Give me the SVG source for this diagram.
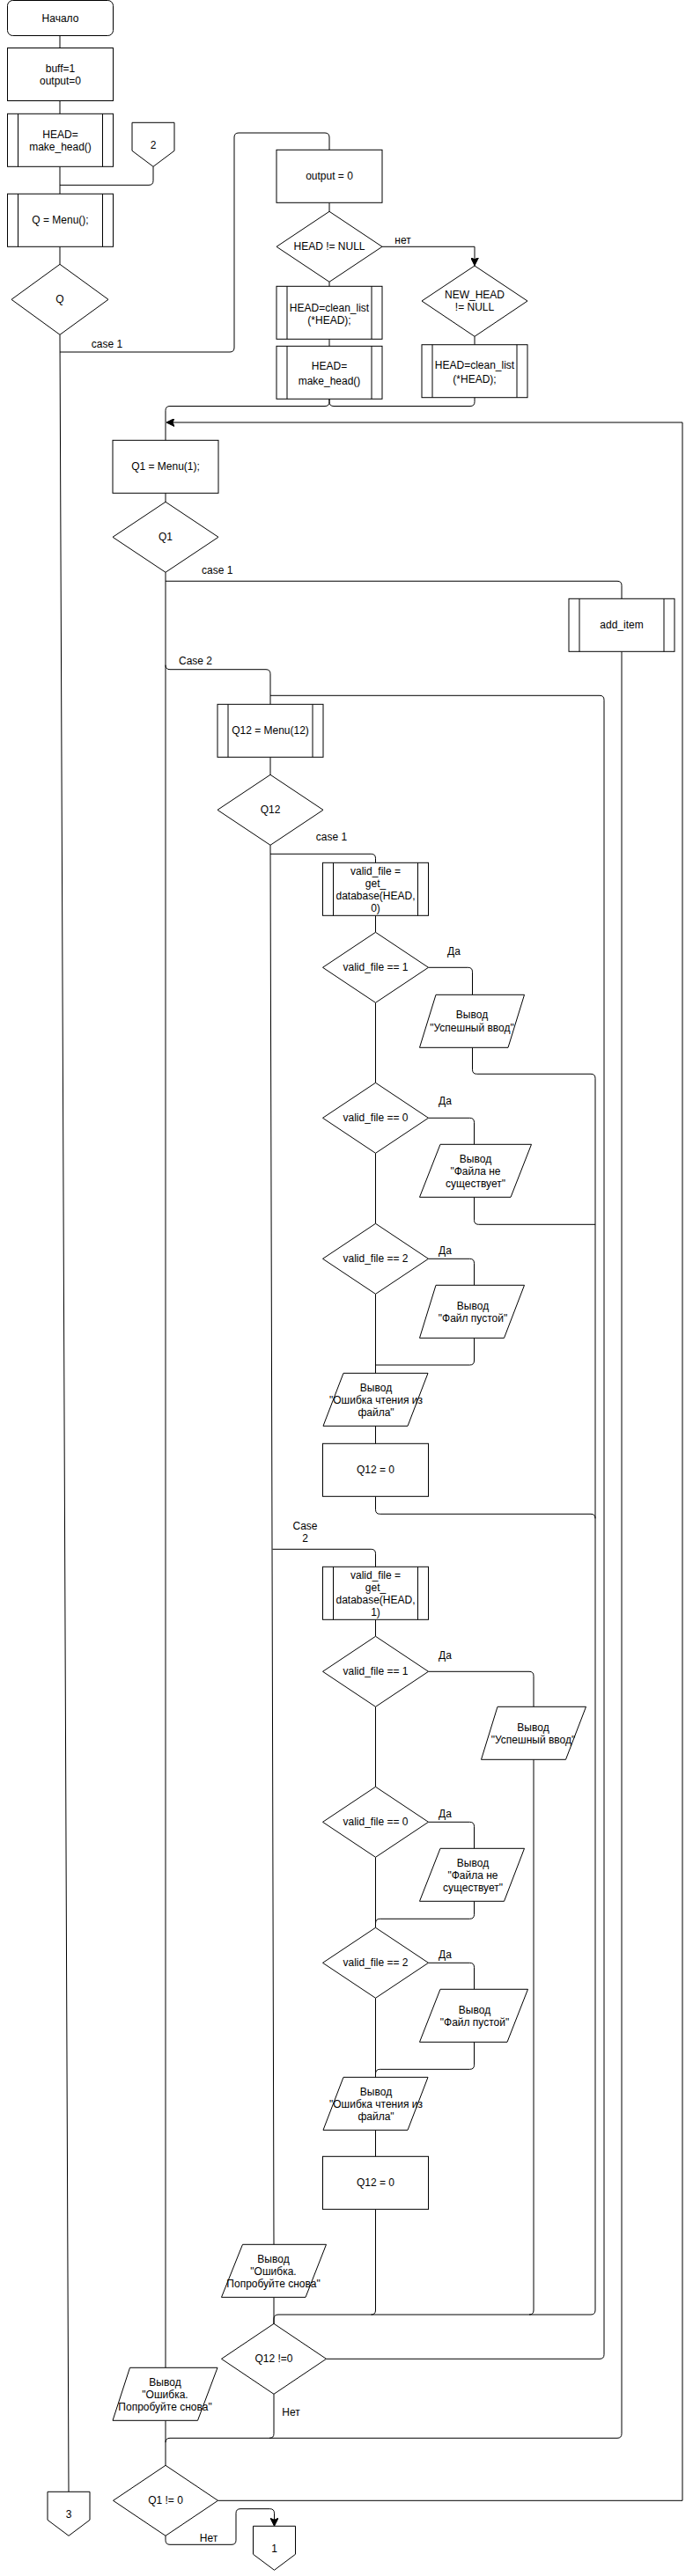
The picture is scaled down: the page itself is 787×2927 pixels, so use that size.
<svg xmlns="http://www.w3.org/2000/svg" width="787" height="2927" viewBox="0 0 787 2927">
<style>
.s{fill:#fff;stroke:#000;stroke-width:1}
.c{fill:none;stroke:#000;stroke-width:1}
.a{marker-end:url(#arr)}
text{font-family:"Liberation Sans",Arial,Helvetica,sans-serif;font-size:12px;fill:#000;text-anchor:middle}
</style>
<defs>
<marker id="arr" markerUnits="userSpaceOnUse" markerWidth="10" markerHeight="9" refX="9" refY="4.5" orient="auto">
<path d="M0,0 L9,4.5 L0,9 L2,4.5 z" fill="#000" stroke="#000" stroke-width="1"/>
</marker>
</defs>
<rect width="787" height="2927" fill="#fff"/>
<g id="connectors">
<path class="c" d="M68,40.5 V54.5"/>
<path class="c" d="M68,114.5 V129.3"/>
<path class="c" d="M68,189.3 V220.3"/>
<path class="c" d="M174,189.3 V205.3 Q174,210.3 169,210.3 H68"/>
<path class="c" d="M68,280.3 V300.3"/>
<path class="c" d="M68,380.3 L78,2831.3"/>
<path class="c" d="M68,400 H261 Q266,400 266,395 V156 Q266,151 271,151 H369 Q374,151 374,156 V170.3"/>
<path class="c" d="M374,230.3 V240.3"/>
<path class="c" d="M374,320.3 V325.3"/>
<path class="c" d="M374,385.3 V393.3"/>
<path class="c a" d="M434,280.3 H539 V301.7"/>
<path class="c" d="M539,382.3 V391.7"/>
<path class="c" d="M539,451.7 V456.5 Q539,461.5 534,461.5 H379 Q374,461.5 374,456.5 V453.3"/>
<path class="c" d="M374,453.3 V456.5 Q374,461.5 369,461.5 H193 Q188,461.5 188,466.5 V500.3"/>
<path class="c" d="M188,560.3 V570.3"/>
<path class="c" d="M188,650.3 V2690.3"/>
<path class="c" d="M188,660.3 H701 Q706,660.3 706,665.3 V680.3"/>
<path class="c" d="M188,755.7 Q188,760.7 193,760.7 H302 Q307,760.7 307,765.7 V800.3"/>
<path class="c" d="M706,740.3 V2765.3 Q706,2770.3 701,2770.3 H193 Q188,2770.3 188,2775.3 V2801.3"/>
<path class="c" d="M188,2750.3 V2775.3"/>
<path class="c" d="M311,2720.3 V2765.3 Q311,2770.3 306,2770.3"/>
<path class="c" d="M370.5,2680.3 H681 Q686,2680.3 686,2675.3 V795.3 Q686,790.3 681,790.3 H307"/>
<path class="c" d="M307,860.3 V880.3"/>
<path class="c" d="M307,960.3 L311,2550.3"/>
<path class="c" d="M307,970.3 H421.5 Q426.5,970.3 426.5,975.3 V980.3"/>
<path class="c" d="M426.5,1040.3 V1059.3"/>
<path class="c" d="M426.5,1139.3 V1230.3"/>
<path class="c" d="M486.5,1099.3 H531.5 Q536.5,1099.3 536.5,1104.3 V1130.3"/>
<path class="c" d="M536.5,1190.3 V1215.3 Q536.5,1220.3 541.5,1220.3 H671 Q676,1220.3 676,1225.3 V2625 Q676,2630 671,2630 H316 Q311,2630 311,2635 V2640.3"/>
<path class="c" d="M311,2610.3 V2640.3"/>
<path class="c" d="M486.5,1270.3 H533.5 Q538.5,1270.3 538.5,1275.3 V1300.3"/>
<path class="c" d="M538.5,1360.3 V1386.3 Q538.5,1391.3 543.5,1391.3 H676"/>
<path class="c" d="M426.5,1310.3 V1390.3"/>
<path class="c" d="M486.5,1430.3 H533.5 Q538.5,1430.3 538.5,1435.3 V1460.3"/>
<path class="c" d="M538.5,1520.3 V1546 Q538.5,1551 533.5,1551 H426.5"/>
<path class="c" d="M426.5,1470.3 V1560.3"/>
<path class="c" d="M426.5,1620.3 V1640.3"/>
<path class="c" d="M426.5,1700.3 V1715.3 Q426.5,1720.3 431.5,1720.3 H671 Q676,1720.3 676,1725.3"/>
<path class="c" d="M309.5,1760.3 H421.5 Q426.5,1760.3 426.5,1765.3 V1780.3"/>
<path class="c" d="M426.5,1840.3 V1859.3"/>
<path class="c" d="M486.5,1899.3 H601 Q606,1899.3 606,1904.3 V1939.3"/>
<path class="c" d="M606,1999.3 V2625 Q606,2630 601,2630"/>
<path class="c" d="M426.5,1939.3 V2030.3"/>
<path class="c" d="M486.5,2070.3 H533.5 Q538.5,2070.3 538.5,2075.3 V2100.3"/>
<path class="c" d="M538.5,2160.3 V2175.3 Q538.5,2180.3 533.5,2180.3 H431.5 Q426.5,2180.3 426.5,2185.3 V2190.3"/>
<path class="c" d="M426.5,2110.3 V2190.3"/>
<path class="c" d="M486.5,2230.3 H533.5 Q538.5,2230.3 538.5,2235.3 V2260.3"/>
<path class="c" d="M538.5,2320.3 V2346.3 Q538.5,2351.3 533.5,2351.3 H431.5 Q426.5,2351.3 426.5,2356.3 V2360.3"/>
<path class="c" d="M426.5,2270.3 V2360.3"/>
<path class="c" d="M426.5,2420.3 V2450.3"/>
<path class="c" d="M426.5,2510.3 V2625 Q426.5,2630 421.5,2630"/>
<path class="c a" d="M247.5,2841.3 H775 V480 H189"/>
<path class="c a" d="M188,2881.3 V2886.3 Q188,2891.3 193,2891.3 H263 Q268,2891.3 268,2886.3 V2855.7 Q268,2850.7 273,2850.7 H306.5 Q311.5,2850.7 311.5,2855.7 V2870.3"/>
<text x="121.5" y="395">case 1</text>
<text x="457.5" y="276.7">нет</text>
<text x="246.7" y="652.3">case 1</text>
<text x="222" y="755">Case 2</text>
<text x="376.5" y="954.7">case 1</text>
<text x="515.5" y="1085">Да</text>
<text x="505.5" y="1255">Да</text>
<text x="505.5" y="1425">Да</text>
<text x="346.5" y="1737.7">Case</text>
<text x="346.5" y="1751.7">2</text>
<text x="505.5" y="1885">Да</text>
<text x="505.5" y="2065">Да</text>
<text x="505.5" y="2225">Да</text>
<text x="330.5" y="2745">Нет</text>
<text x="237" y="2888">Нет</text>
</g>
<g id="start"><rect class="s" x="8.5" y="0.5" width="120" height="40" rx="6"/><text x="68.5" y="24.7">Начало</text></g>
<g id="init"><rect class="s" x="8.5" y="54.5" width="120" height="60"/><text x="68.5" y="81.7">buff=1</text><text x="68.5" y="96.3">output=0</text></g>
<g id="makehead1"><rect class="s" x="8.5" y="129.3" width="120" height="60"/><path class="c" d="M20.5,129.3 V189.3 M116.5,129.3 V189.3"/><text x="68.5" y="156.7">HEAD=</text><text x="68.5" y="170.7">make_head()</text></g>
<g id="conn2"><path class="s" d="M150,139.3 H198 V171.3 L174,189.3 L150,171.3 Z"/><text x="174" y="168.7">2</text></g>
<g id="menuQ"><rect class="s" x="8.5" y="220.3" width="120" height="60"/><path class="c" d="M20.5,220.3 V280.3 M116.5,220.3 V280.3"/><text x="68.5" y="254.3">Q = Menu();</text></g>
<g id="decQ"><path class="s" d="M68,300.3 L123,340.3 L68,380.3 L13,340.3 Z"/><text x="68" y="344.3">Q</text></g>
<g id="output0"><rect class="s" x="314" y="170.3" width="120" height="60"/><text x="374" y="204.3">output = 0</text></g>
<g id="decHead"><path class="s" d="M374,240.3 L434,280.3 L374,320.3 L314,280.3 Z"/><text x="374" y="284.3">HEAD != NULL</text></g>
<g id="clean1"><rect class="s" x="314" y="325.3" width="120" height="60"/><path class="c" d="M326,325.3 V385.3 M422,325.3 V385.3"/><text x="374" y="354">HEAD=clean_list</text><text x="374" y="368">(*HEAD);</text></g>
<g id="makehead2"><rect class="s" x="314" y="393.3" width="120" height="60"/><path class="c" d="M326,393.3 V453.3 M422,393.3 V453.3"/><text x="374" y="420">HEAD=</text><text x="374" y="436.7">make_head()</text></g>
<g id="decNewHead"><path class="s" d="M539,302 L599,342 L539,382.3 L479,342 Z"/><text x="539" y="339">NEW_HEAD</text><text x="539" y="353">!= NULL</text></g>
<g id="clean2"><rect class="s" x="479" y="391.7" width="120" height="60"/><path class="c" d="M491,391.7 V451.7 M587,391.7 V451.7"/><text x="539" y="419">HEAD=clean_list</text><text x="539" y="434.7">(*HEAD);</text></g>
<g id="menuQ1"><rect class="s" x="128" y="500.3" width="120" height="60"/><text x="188" y="534.3">Q1 = Menu(1);</text></g>
<g id="decQ1"><path class="s" d="M188,570.3 L248,610.3 L188,650.3 L128,610.3 Z"/><text x="188" y="614.3">Q1</text></g>
<g id="additem"><rect class="s" x="646" y="680.3" width="120" height="60"/><path class="c" d="M658,680.3 V740.3 M754,680.3 V740.3"/><text x="706" y="714.3">add_item</text></g>
<g id="menuQ12"><rect class="s" x="247" y="800.3" width="120" height="60"/><path class="c" d="M259,800.3 V860.3 M355,800.3 V860.3"/><text x="307" y="834.3">Q12 = Menu(12)</text></g>
<g id="decQ12"><path class="s" d="M307,880.3 L367,920.3 L307,960.3 L247,920.3 Z"/><text x="307" y="924.3">Q12</text></g>
<g id="getdb0"><rect class="s" x="366.5" y="980.3" width="120" height="60"/><path class="c" d="M378.5,980.3 V1040.3 M474.5,980.3 V1040.3"/><text x="426.5" y="993.7">valid_file =</text><text x="426.5" y="1007.7">get_</text><text x="426.5" y="1021.7">database(HEAD,</text><text x="426.5" y="1035.7">0)</text></g>
<g id="vf1a"><path class="s" d="M426.5,1059.3 L486.5,1099.3 L426.5,1139.3 L366.5,1099.3 Z"/><text x="426.5" y="1103.3">valid_file == 1</text></g>
<g id="out1a"><path class="s" d="M495,1130.3 H595.5 L577,1190.3 H476.5 Z"/><text x="536" y="1157.3">Вывод</text><text x="536" y="1172.3">"Успешный ввод"</text></g>
<g id="vf0a"><path class="s" d="M426.5,1230.3 L486.5,1270.3 L426.5,1310.3 L366.5,1270.3 Z"/><text x="426.5" y="1274.3">valid_file == 0</text></g>
<g id="out0a"><path class="s" d="M500,1300.3 H603.5 L580,1360.3 H476.5 Z"/><text x="540" y="1321">Вывод</text><text x="540" y="1335.3">"Файла не</text><text x="540" y="1349.3">существует"</text></g>
<g id="vf2a"><path class="s" d="M426.5,1390.3 L486.5,1430.3 L426.5,1470.3 L366.5,1430.3 Z"/><text x="426.5" y="1434.3">valid_file == 2</text></g>
<g id="out2a"><path class="s" d="M495,1460.3 H595.5 L572.5,1520.3 H476.5 Z"/><text x="537" y="1487.7">Вывод</text><text x="537" y="1502.3">"Файл пустой"</text></g>
<g id="errA"><path class="s" d="M390,1560.3 H486 L463,1620.3 H367 Z"/><text x="427" y="1581">Вывод</text><text x="427" y="1595">"Ошибка чтения из</text><text x="427" y="1609">файла"</text></g>
<g id="q12zeroA"><rect class="s" x="366.5" y="1640.3" width="120" height="60"/><text x="426.5" y="1674.3">Q12 = 0</text></g>
<g id="getdb1"><rect class="s" x="366.5" y="1780.3" width="120" height="60"/><path class="c" d="M378.5,1780.3 V1840.3 M474.5,1780.3 V1840.3"/><text x="426.5" y="1794.3">valid_file =</text><text x="426.5" y="1808.3">get_</text><text x="426.5" y="1822.3">database(HEAD,</text><text x="426.5" y="1836.3">1)</text></g>
<g id="vf1b"><path class="s" d="M426.5,1859.3 L486.5,1899.3 L426.5,1939.3 L366.5,1899.3 Z"/><text x="426.5" y="1903.3">valid_file == 1</text></g>
<g id="out1b"><path class="s" d="M565,1939.3 H665.5 L642.5,1999.3 H546.5 Z"/><text x="605.5" y="1967.3">Вывод</text><text x="605.5" y="1981.3">"Успешный ввод"</text></g>
<g id="vf0b"><path class="s" d="M426.5,2030.3 L486.5,2070.3 L426.5,2110.3 L366.5,2070.3 Z"/><text x="426.5" y="2074.3">valid_file == 0</text></g>
<g id="out0b"><path class="s" d="M500,2100.3 H595.5 L572.5,2160.3 H476.5 Z"/><text x="537" y="2121">Вывод</text><text x="537" y="2135.3">"Файла не</text><text x="537" y="2149.3">существует"</text></g>
<g id="vf2b"><path class="s" d="M426.5,2190.3 L486.5,2230.3 L426.5,2270.3 L366.5,2230.3 Z"/><text x="426.5" y="2234.3">valid_file == 2</text></g>
<g id="out2b"><path class="s" d="M500,2260.3 H599.5 L576,2320.3 H476.5 Z"/><text x="539" y="2288">Вывод</text><text x="539" y="2302">"Файл пустой"</text></g>
<g id="errB"><path class="s" d="M390,2360.3 H486 L463,2420.3 H367 Z"/><text x="427" y="2381">Вывод</text><text x="427" y="2395">"Ошибка чтения из</text><text x="427" y="2409">файла"</text></g>
<g id="q12zeroB"><rect class="s" x="366.5" y="2450.3" width="120" height="60"/><text x="426.5" y="2484.3">Q12 = 0</text></g>
<g id="retryA"><path class="s" d="M275.5,2550.3 H370.5 L347,2610.3 H251.5 Z"/><text x="310.5" y="2570.7">Вывод</text><text x="310.5" y="2585">"Ошибка.</text><text x="310.5" y="2599">Попробуйте снова"</text></g>
<g id="decQ12ne"><path class="s" d="M311,2640.3 L370.5,2680.3 L311,2720.3 L251.5,2680.3 Z"/><text x="311" y="2684.3">Q12 !=0</text></g>
<g id="retryB"><path class="s" d="M147.5,2690.3 H247 L224.5,2750.3 H128 Z"/><text x="187.5" y="2711">Вывод</text><text x="187.5" y="2725.3">"Ошибка.</text><text x="187.5" y="2739.3">Попробуйте снова"</text></g>
<g id="decQ1ne"><path class="s" d="M188,2801.3 L247.5,2841.3 L188,2881.3 L128.5,2841.3 Z"/><text x="188" y="2845.3">Q1 != 0</text></g>
<g id="conn3"><path class="s" d="M54,2831.3 H102 V2863.3 L78,2881.3 L54,2863.3 Z"/><text x="78" y="2860.7">3</text></g>
<g id="conn1"><path class="s" d="M287.5,2870.3 H335.5 V2902.3 L311.5,2920.3 L287.5,2902.3 Z"/><text x="311.5" y="2899.7">1</text></g>
</svg>
